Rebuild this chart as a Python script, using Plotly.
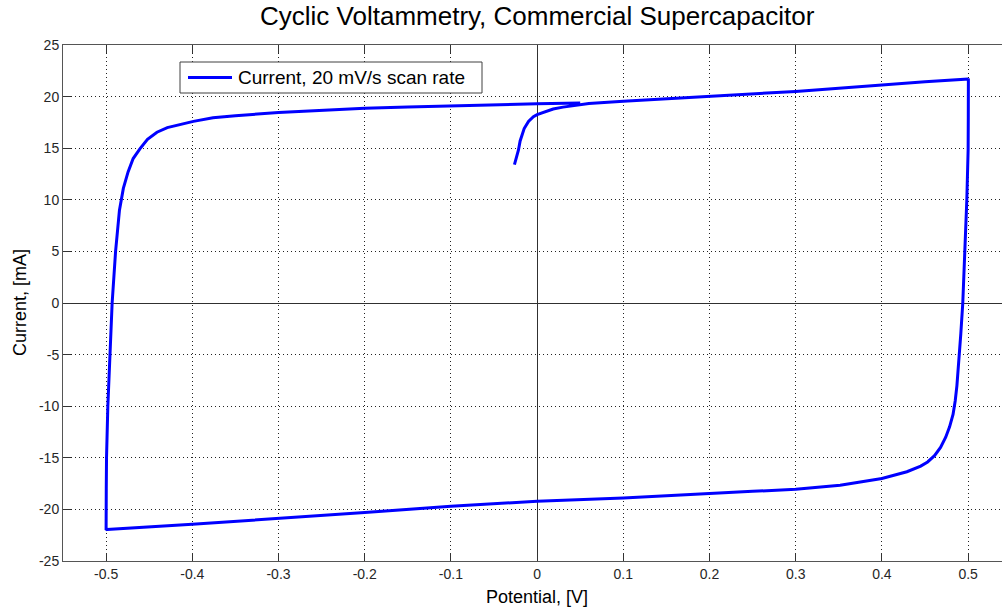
import plotly.graph_objects as go

# ---- data (Potential [V], Current [mA]) ----
forward_v = [-0.0263, -0.0235, -0.0217, -0.0197, -0.015, -0.010, -0.0043, 0.0, 0.008, 0.0186,
             0.03, 0.042, 0.06, 0.1, 0.15, 0.2, 0.25, 0.3, 0.35, 0.4, 0.45, 0.5, 0.5003]
forward_i = [13.4, 14.2, 14.8, 15.7, 16.9, 17.6, 18.05, 18.25, 18.5, 18.8,
             18.98, 19.1, 19.33, 19.55, 19.78, 20.0, 20.25, 20.5, 20.82, 21.15, 21.45, 21.7, 21.75]

reverse_v = [0.5003, 0.5002, 0.5, 0.4985, 0.4965, 0.4938, 0.4915, 0.489, 0.487, 0.485, 0.4825,
             0.4785, 0.474, 0.468, 0.461, 0.453, 0.445, 0.429, 0.4, 0.3515, 0.3, 0.25,
             0.2, 0.1, 0.0, -0.1, -0.2, -0.3, -0.4, -0.499, -0.5]
reverse_i = [21.75, 18.0, 14.8, 10.0, 5.1, 0.0, -3.0, -6.0, -8.0, -9.5, -10.8,
             -12.0, -13.0, -14.0, -14.8, -15.4, -15.8, -16.35, -17.0, -17.65, -18.05, -18.25,
             -18.45, -18.9, -19.2, -19.7, -20.3, -20.88, -21.45, -21.95, -22.0]

return_v = [-0.5, -0.4998, -0.4995, -0.498, -0.4955, -0.493, -0.489, -0.4845, -0.48, -0.4745,
            -0.4686, -0.4606, -0.452, -0.441, -0.429, -0.415, -0.3987, -0.376, -0.35, -0.3,
            -0.25, -0.2, -0.15, -0.1, -0.05, 0.0, 0.05]
return_i = [-22.0, -18.0, -15.0, -10.0, -5.0, 0.0, 5.0, 9.0, 11.1, 12.7,
            14.0, 14.96, 15.85, 16.55, 17.0, 17.3, 17.6, 17.95, 18.15, 18.45,
            18.7, 18.88, 19.0, 19.12, 19.22, 19.3, 19.38]

x_tickvals = [-0.5, -0.4, -0.3, -0.2, -0.1, 0.0, 0.1, 0.2, 0.3, 0.4, 0.5]
x_ticktext = ["-0.5", "-0.4", "-0.3", "-0.2", "-0.1", "0", "0.1", "0.2", "0.3", "0.4", "0.5"]
y_tickvals = [-25, -20, -15, -10, -5, 0, 5, 10, 15, 20, 25]
y_ticktext = ["-25", "-20", "-15", "-10", "-5", "0", "5", "10", "15", "20", "25"]

title_text = "Cyclic Voltammetry, Commercial Supercapacitor"
x_title = "Potential, [V]"
y_title = "Current, [mA]"
series_name = "Current, 20 mV/s scan rate"

potential = forward_v + reverse_v[1:] + return_v[1:]
current = forward_i + reverse_i[1:] + return_i[1:]

FONT = "Liberation Sans, Arial, sans-serif"
BLUE = "#0000FF"

W, H = 1002, 610
ml, mt, mb = 63, 45, 49
plot_w = W - ml
plot_h = H - mt - mb
plot_bottom = H - mb


def px_x(px):
    return (px - ml) / plot_w


def px_y(py):
    return (plot_bottom - py) / plot_h


fig = go.Figure()
fig.add_trace(go.Scatter(x=potential, y=current, mode="lines", name=series_name,
                         line=dict(color=BLUE, width=3), showlegend=False))

# legend box drawn by hand (MATLAB style: long line sample)
shapes = [
    dict(type="rect", xref="paper", yref="paper",
         x0=px_x(180), x1=px_x(482), y0=px_y(93), y1=px_y(62),
         fillcolor="white", line=dict(color="#404040", width=1), layer="above"),
    dict(type="line", xref="paper", yref="paper",
         x0=px_x(188), x1=px_x(232), y0=px_y(77.5), y1=px_y(77.5),
         line=dict(color=BLUE, width=3), layer="above"),
]

fig.update_layout(
    width=W, height=H,
    margin=dict(l=ml, r=0, t=mt, b=mb),
    paper_bgcolor="white", plot_bgcolor="white",
    font=dict(family=FONT, color="#202020"),
    showlegend=False,
    shapes=shapes,
    xaxis=dict(range=[-0.55, 0.5393], tickvals=x_tickvals, ticktext=x_ticktext,
               showgrid=True, gridcolor="#222222", griddash="1px,3px", gridwidth=1,
               zeroline=True, zerolinecolor="#303030", zerolinewidth=1,
               showline=True, linecolor="#555555", linewidth=1, mirror="ticks",
               ticks="inside", ticklen=8, tickcolor="#333333",
               tickfont=dict(family=FONT, size=14, color="#262626")),
    yaxis=dict(range=[-25, 25], tickvals=y_tickvals, ticktext=y_ticktext,
               showgrid=True, gridcolor="#222222", griddash="1px,3px", gridwidth=1,
               zeroline=True, zerolinecolor="#303030", zerolinewidth=1,
               showline=True, linecolor="#555555", linewidth=1, mirror=False,
               ticks="inside", ticklen=8, tickcolor="#333333",
               tickfont=dict(family=FONT, size=14, color="#262626")),
    annotations=[
        dict(text=title_text, xref="paper", yref="paper",
             x=px_x(537), y=px_y(16), xanchor="center", yanchor="middle", showarrow=False,
             font=dict(family=FONT, size=26, color="black")),
        dict(text=x_title, xref="paper", yref="paper",
             x=px_x(537), y=px_y(597), xanchor="center", yanchor="middle", showarrow=False,
             font=dict(family=FONT, size=18, color="black")),
        dict(text=y_title, xref="paper", yref="paper",
             x=px_x(20), y=0.5, textangle=-90,
             xanchor="center", yanchor="middle", showarrow=False,
             font=dict(family=FONT, size=18, color="black")),
        dict(text=series_name, xref="paper", yref="paper",
             x=px_x(236), y=px_y(77.5), xanchor="left", yanchor="middle", showarrow=False,
             font=dict(family=FONT, size=19, color="black")),
    ],
)

fig.write_html("out.html")
